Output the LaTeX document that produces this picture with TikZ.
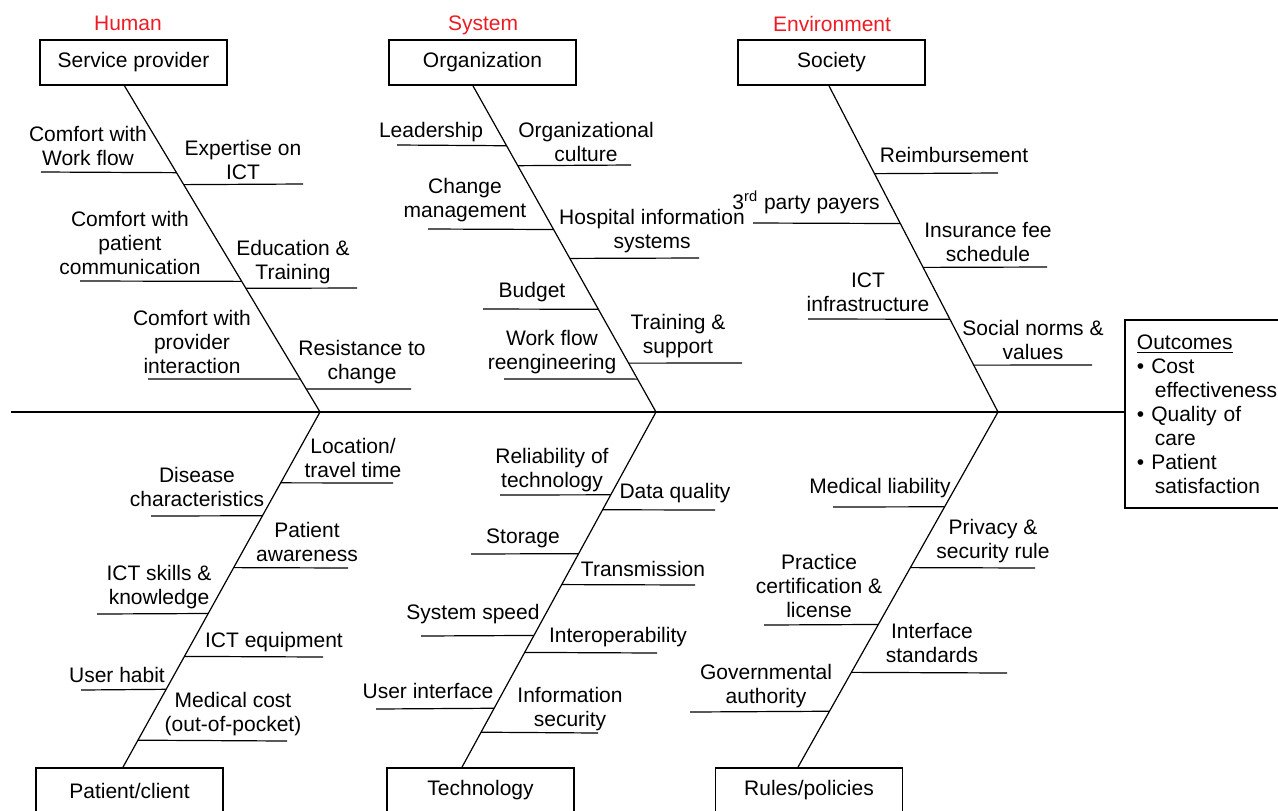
\documentclass[tikz,border=0pt]{standalone}
\usepackage{fontspec}
\setmainfont{Liberation Sans}
\usetikzlibrary{calc}

\definecolor{headred}{RGB}{237,28,36}

\tikzset{
  lbl/.style={inner sep=0pt, align=center, anchor=base, font=\fontsize{10.5}{12}\selectfont},
  head/.style={lbl, text=headred},
  catbox/.style={draw, line width=0.9pt, minimum width=93.5pt, minimum height=22.5pt,
    inner sep=0pt, font=\fontsize{10.5}{12}\selectfont},
}

\begin{document}
\begin{tikzpicture}[x=0.5pt, y=-0.5pt, line width=0.6pt]
    \useasboundingbox (0,0) rectangle (1278,810);
    \clip (0,0) rectangle (1278,810);

    % group headings
    \node[head] (hum) at (128,30) {Human};
    \node[head] (sys) at (483,30) {System};
    \node[head] (env) at (832,31) {Environment};

    % category boxes
    \node[catbox] (sp)  at (133.5,62.5) {Service provider};
    \node[catbox] (org) at (482.5,62.5) {Organization};
    \node[catbox] (soc) at (831.5,62.5) {Society};
    \node[catbox] (pat) at (129.5,790.5) {Patient/client};
    \node[catbox] (tec) at (480.5,790.5) {Technology};
    \node[catbox] (rul) at (809,790.5) {Rules/policies};

    % effect box
    \node[draw, line width=0.9pt, anchor=north west, inner xsep=6pt, inner ysep=6.5pt,
      align=left, text width=75pt, minimum height=94pt,
      font=\fontsize{10.5}{12}\selectfont] (out) at (1124,319)
      {\underline{Outcomes}\\
       \textbullet\ Cost\\
       \hspace*{9pt}effectiveness\\
       \textbullet\ Quality of\\
       \hspace*{9pt}care\\
       \textbullet\ Patient\\
       \hspace*{9pt}satisfaction};

    % spine and bones
    \coordinate (tail) at (11,412);
    \coordinate (j1) at (320,412);
    \coordinate (j2) at (656,412);
    \coordinate (j3) at (998,412);
    \draw (tail) -- (tail -| out.west);
    \draw ([xshift=-4.5pt]sp.south) coordinate (h1) -- (j1)
      -- ([xshift=-3.25pt]pat.north) coordinate (t1);
    \draw ([xshift=-4.75pt]org.south) coordinate (h2) -- (j2)
      -- ([xshift=-9.25pt]tec.north) coordinate (t2);
    \draw ([xshift=-1.25pt]soc.south) coordinate (h3) -- (j3)
      -- ([xshift=-5.5pt]rul.north) coordinate (t3);

    % branches: y of the branch / free end
    \foreach \y/\xe in {172/41, 184/303, 281/80, 288/357, 379/148, 389/411}
      \draw ($(h1)!{(\y-85)/327}!(j1)$) -- (\xe,\y);
    \foreach \y/\xe in {145/397, 165/631, 229/428, 258/699, 309/483, 363/742, 379/504}
      \draw ($(h2)!{(\y-85)/327}!(j2)$) -- (\xe,\y);
    \foreach \y/\xe in {173/998, 223/753, 267/1047, 319/808, 365/1092}
      \draw ($(h3)!{(\y-85)/327}!(j3)$) -- (\xe,\y);
    \foreach \y/\xe in {483/393, 516/151, 568/348, 614/97, 657/323, 690/81, 741/287}
      \draw ($(j1)!{(\y-412)/356}!(t1)$) -- (\xe,\y);
    \foreach \y/\xe in {495/500, 510/715, 554/471, 585/695, 636/421, 653/657, 709/376, 733/598}
      \draw ($(j2)!{(\y-412)/356}!(t2)$) -- (\xe,\y);
    \foreach \y/\xe in {507/833, 568/1035, 625/764, 673/1007, 712/690}
      \draw ($(j3)!{(\y-412)/356}!(t3)$) -- (\xe,\y);

    % labels sit on the baseline of their last line
    % labels, service provider
    \node[lbl] (sp1) at (88,165)  {Comfort with\\Work flow};
    \node[lbl] (sp2) at (243,179) {Expertise on\\ICT};
    \node[lbl] (sp3) at (130,274) {Comfort with\\patient\\communication};
    \node[lbl] (sp4) at (293,279) {Education \&\\Training};
    \node[lbl] (sp5) at (192,373) {Comfort with\\provider\\interaction};
    \node[lbl] (sp6) at (362,379) {Resistance to\\change};

    % labels, organization
    \node[lbl] (org1) at (431,137) {Leadership};
    \node[lbl] (org2) at (586,161) {Organizational\\culture};
    \node[lbl] (org3) at (465,217) {Change\\management};
    \node[lbl] (org4) at (652,248) {Hospital information\\systems};
    \node[lbl] (org5) at (532,297) {Budget};
    \node[lbl] (org6) at (552,369) {Work flow\\reengineering};
    \node[lbl] (org7) at (678,353) {Training \&\\support};

    % labels, society
    \node[lbl] (soc1) at (954,162) {Reimbursement};
    \node[lbl] (soc2) at (806,209) {3\textsuperscript{rd} party payers};
    \node[lbl] (soc3) at (988,261) {Insurance fee\\schedule};
    \node[lbl] (soc4) at (868,311) {ICT\\infrastructure};
    \node[lbl] (soc5) at (1033,359) {Social norms \&\\values};

    % labels, patient/client
    \node[lbl] (pat1) at (353,477) {Location/\\travel time};
    \node[lbl] (pat2) at (197,506) {Disease\\characteristics};
    \node[lbl] (pat3) at (307,561) {Patient\\awareness};
    \node[lbl] (pat4) at (159,604) {ICT skills \&\\knowledge};
    \node[lbl] (pat5) at (274,647) {ICT equipment};
    \node[lbl] (pat6) at (117,682) {User habit};
    \node[lbl] (pat7) at (233,731) {Medical cost\\(out-of-pocket)};

    % labels, technology
    \node[lbl] (tec1) at (552,487) {Reliability of\\technology};
    \node[lbl] (tec2) at (675,498) {Data quality};
    \node[lbl] (tec3) at (523,543) {Storage};
    \node[lbl] (tec4) at (643,576) {Transmission};
    \node[lbl] (tec5) at (473,619) {System speed};
    \node[lbl] (tec6) at (618,642) {Interoperability};
    \node[lbl] (tec7) at (428,698) {User interface};
    \node[lbl] (tec8) at (570,726) {Information\\security};

    % labels, rules/policies
    \node[lbl] (rul1) at (880,493) {Medical liability};
    \node[lbl] (rul2) at (993,558) {Privacy \&\\security rule};
    \node[lbl] (rul3) at (819,617) {Practice\\certification \&\\license};
    \node[lbl] (rul4) at (932,662) {Interface\\standards};
    \node[lbl] (rul5) at (766,703) {Governmental\\authority};
\end{tikzpicture}
\end{document}
